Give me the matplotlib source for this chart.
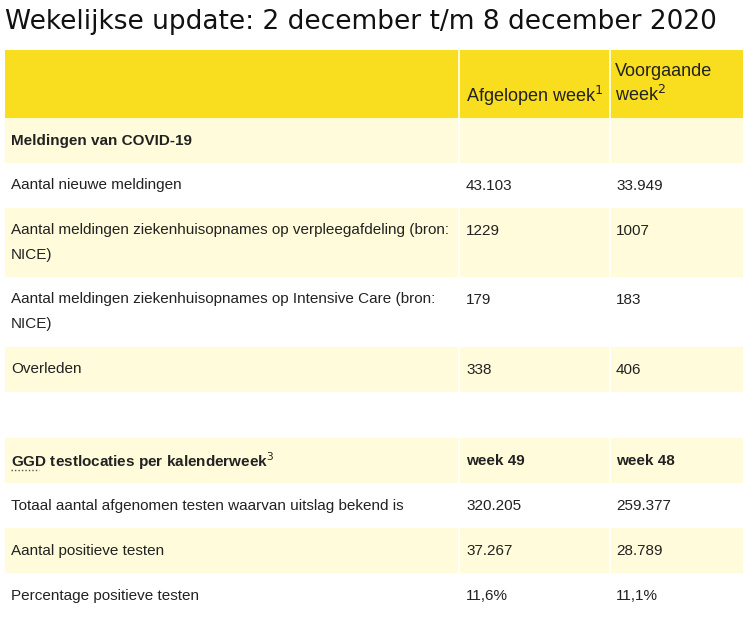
import matplotlib
matplotlib.use("Agg")
import matplotlib.pyplot as plt
from matplotlib.patches import Rectangle

title = "Wekelijkse update: 2 december t/m 8 december 2020"
col_headers = ["Afgelopen week$^1$", "Voorgaande\nweek$^2$"]
section1 = "Meldingen van COVID-19"
labels1 = ["Aantal nieuwe meldingen",
           "Aantal meldingen ziekenhuisopnames op verpleegafdeling (bron:\nNICE)",
           "Aantal meldingen ziekenhuisopnames op Intensive Care (bron:\nNICE)",
           "Overleden"]
cur1 = ["43.103", "1229", "179", "338"]
prev1 = ["33.949", "1007", "183", "406"]
section2 = "GGD testlocaties per kalenderweek$^3$"
section2_cols = ["week 49", "week 48"]
labels2 = ["Totaal aantal afgenomen testen waarvan uitslag bekend is",
           "Aantal positieve testen",
           "Percentage positieve testen"]
cur2 = ["320.205", "37.267", "11,6%"]
prev2 = ["259.377", "28.789", "11,1%"]

YEL = "#F8DE1E"
LIGHT = "#FFFBDB"
FONT = ["Liberation Sans Narrow", "Liberation Sans", "DejaVu Sans"]
plt.rcParams["font.family"] = FONT
plt.rcParams["mathtext.fontset"] = "custom"
plt.rcParams["mathtext.rm"] = "Liberation Sans Narrow"

fig = plt.figure(figsize=(7.43, 6.17), dpi=100)
ax = fig.add_axes([0, 0, 1, 1])
ax.set_xlim(0, 743); ax.set_ylim(617, 0); ax.axis("off")

X0, X1, X2, X3 = 5, 459, 610, 743
FS = 11

ax.text(5, 22, title, fontsize=19, va="center", ha="left", family="DejaVu Sans", color="#111")

def row(y0, y1, color, label, c1, c2, bold=False):
    ax.add_patch(Rectangle((X0, y0), X3 - X0, y1 - y0, color=color, lw=0))
    for x in (X1, X2):
        ax.plot([x, x], [y0, y1], color="white", lw=1.2)
    w = "bold" if bold else "normal"
    ax.text(X0 + 6, y0 + 23, label, fontsize=FS, va="top" if "\n" in label else "center",
            ha="left", weight=w, color="#222", linespacing=1.8) if "\n" in label else \
        ax.text(X0 + 6, y0 + 23, label, fontsize=FS, va="center", ha="left", weight=w, color="#222")
    ax.text(X1 + 7, y0 + 23, c1, fontsize=FS, va="center", ha="left", weight=w, color="#222")
    ax.text(X2 + 6, y0 + 23, c2, fontsize=FS, va="center", ha="left", weight=w, color="#222")

# header
ax.add_patch(Rectangle((X0, 50), X3 - X0, 68, color=YEL, lw=0))
for x in (X1, X2):
    ax.plot([x, x], [50, 118], color="white", lw=1.2)
ax.text(X1 + 7, 96, col_headers[0], fontsize=13, va="center", ha="left", color="#222")
ax.text(X2 + 5, 84, col_headers[1], fontsize=13, va="center", ha="left", color="#222", linespacing=1.3)

row(118, 163, LIGHT, section1, "", "", bold=True)
bounds1 = [(163, 208), (208, 277), (277, 347), (347, 392)]
for i, (lab, a, b) in enumerate(zip(labels1, cur1, prev1)):
    y0, y1 = bounds1[i]
    col = "white" if i % 2 == 0 else LIGHT
    ax.add_patch(Rectangle((X0, y0), X3 - X0, y1 - y0, color=col, lw=0))
    for x in (X1, X2):
        ax.plot([x, x], [y0, y1], color="white", lw=1.2)
    ax.text(X0 + 6, y0 + 23 - 8, lab, fontsize=FS, va="top", ha="left", color="#222", linespacing=2.0)
    ax.text(X1 + 7, y0 + 23, a, fontsize=FS, va="center", ha="left", color="#222")
    ax.text(X2 + 6, y0 + 23, b, fontsize=FS, va="center", ha="left", color="#222")

row(438, 483, LIGHT, section2, section2_cols[0], section2_cols[1], bold=True)
ax.plot([X0 + 6, X0 + 34], [470, 470], color="#555", lw=1, ls=(0, (1, 1.5)))
bounds2 = [(483, 528), (528, 573), (573, 617)]
for i, (lab, a, b) in enumerate(zip(labels2, cur2, prev2)):
    y0, y1 = bounds2[i]
    row(y0, y1, "white" if i % 2 == 0 else LIGHT, lab, a, b)

fig.savefig("out.png", dpi=100)
